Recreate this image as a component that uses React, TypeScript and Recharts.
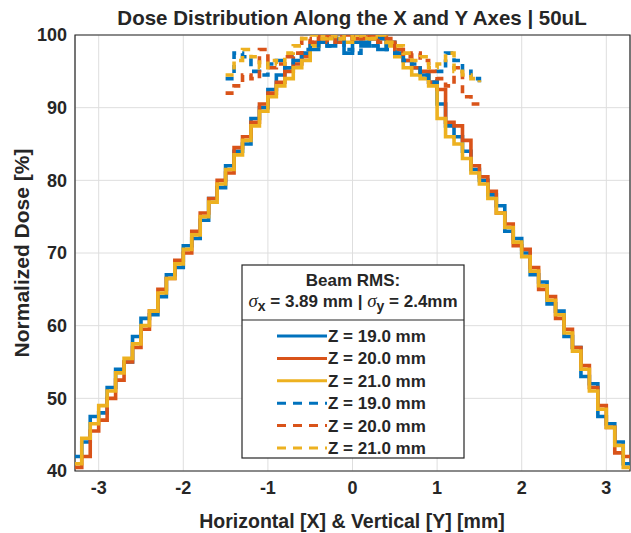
import { LineChart, Line, XAxis, YAxis, CartesianGrid, ReferenceArea } from 'recharts'

// positions along the axis [mm]
const xSolid = [
  -3.3, -3.2, -3.1, -3.0, -2.9, -2.8, -2.7, -2.6, -2.5, -2.4, -2.3, -2.2, -2.1, -2.0, -1.9, -1.8, -1.7,
  -1.6, -1.5, -1.4, -1.3, -1.2, -1.1, -1.0, -0.9, -0.8, -0.7, -0.6, -0.5, -0.4, -0.3, -0.2, -0.1, 0.0,
  0.1, 0.2, 0.3, 0.4, 0.5, 0.6, 0.7, 0.8, 0.9, 1.0, 1.1, 1.2, 1.3, 1.4, 1.5, 1.6, 1.7, 1.8, 1.9, 2.0,
  2.1, 2.2, 2.3, 2.4, 2.5, 2.6, 2.7, 2.8, 2.9, 3.0, 3.1, 3.2, 3.3
]
const xDashed = [
  -1.5, -1.4, -1.3, -1.2, -1.1, -1.0, -0.9, -0.8, -0.7, -0.6, -0.5, -0.4, -0.3, -0.2, -0.1, 0.0,
  0.1, 0.2, 0.3, 0.4, 0.5, 0.6, 0.7, 0.8, 0.9, 1.0, 1.1, 1.2, 1.3, 1.4, 1.5
]

// horizontal profiles (solid)
const z19X = [
  42.0, 44.0, 47.5, 48.0, 51.5, 54.0, 55.0, 58.5, 61.0, 61.5, 64.0, 67.0, 68.0, 71.0, 72.0, 74.5, 77.5,
  79.0, 82.0, 84.0, 85.0, 88.5, 90.0, 92.5, 94.5, 95.5, 96.5, 97.5, 98.0, 99.0, 98.5, 99.5, 97.5, 99.0,
  98.5, 99.5, 98.0, 99.0, 97.5, 96.5, 95.5, 94.5, 93.5, 90.5, 87.5, 86.0, 84.0, 81.5, 80.0, 78.0, 76.5,
  73.0, 72.0, 70.0, 67.0, 66.0, 63.0, 62.0, 58.5, 57.0, 53.0, 52.0, 47.5, 46.5, 44.0, 41.0, 40.5
]
const z20X = [
  40.5, 42.0, 45.5, 47.0, 50.0, 52.5, 55.0, 57.0, 59.5, 62.0, 65.0, 66.5, 69.0, 70.0, 73.0, 75.5, 77.5,
  80.0, 81.0, 84.5, 86.0, 88.0, 90.5, 92.0, 93.5, 95.0, 96.0, 97.0, 99.0, 99.5, 100, 99.0, 100, 99.5,
  100, 99.5, 100, 99.0, 98.0, 96.5, 95.5, 95.0, 93.5, 92.5, 88.0, 87.5, 85.5, 82.0, 80.5, 78.5, 75.5,
  74.0, 71.0, 70.5, 68.0, 65.0, 64.0, 61.0, 59.5, 57.0, 54.5, 51.5, 49.0, 46.0, 42.5, 42.0, 40.0
]
const z21X = [
  41.0, 44.5, 46.5, 49.0, 51.0, 53.5, 55.5, 57.5, 60.0, 62.0, 64.5, 66.5, 68.5, 70.5, 72.5, 75.0, 77.0,
  79.5, 81.5, 83.5, 85.5, 87.5, 89.5, 91.5, 93.0, 94.0, 95.5, 96.5, 98.5, 100, 99.5, 99.5, 99.0, 100,
  99.5, 100, 99.5, 98.5, 97.0, 95.5, 94.5, 94.0, 93.0, 88.5, 86.0, 85.0, 83.0, 81.0, 79.5, 77.5, 75.5,
  73.5, 71.5, 69.5, 67.5, 65.5, 63.5, 61.5, 59.0, 56.5, 54.0, 51.0, 48.5, 46.0, 43.5, 40.5, 40.0
]

// vertical profiles (dashed)
const z19Y = [
  94.0, 97.5, 97.0, 95.0, 94.5, 96.0, 96.5, 95.5, 97.0, 98.0, 98.5, 99.0, 98.5, 99.5, 98.0, 97.5,
  99.0, 98.5, 99.5, 98.0, 97.5, 96.5, 96.0, 94.5, 93.5, 95.0, 97.5, 96.5, 95.0, 94.0, 93.5
]
const z20Y = [
  92.0, 93.0, 94.5, 94.0, 98.0, 95.5, 96.0, 97.0, 97.5, 99.5, 99.0, 100, 99.0, 100, 99.5, 100,
  99.5, 100, 99.0, 99.5, 98.0, 97.0, 97.5, 96.5, 95.0, 94.0, 93.0, 95.5, 91.5, 90.5, 90.5
]
const z21Y = [
  94.5, 96.5, 98.0, 97.0, 95.5, 96.5, 96.0, 97.5, 98.5, 99.5, 100, 99.5, 100, 99.5, 100, 99.5,
  100, 99.5, 100, 99.0, 98.5, 97.5, 96.5, 97.0, 95.5, 96.0, 97.5, 95.0, 94.5, 94.0, 93.5
]

const xTicks = [-3, -2, -1, 0, 1, 2, 3]
const yTicks = [40, 50, 60, 70, 80, 90, 100]
const legendLabels = ['Z = 19.0 mm', 'Z = 20.0 mm', 'Z = 21.0 mm', 'Z = 19.0 mm', 'Z = 20.0 mm', 'Z = 21.0 mm']

const BLUE = '#0072BD'
const ORANGE = '#D95319'
const YELLOW = '#EDB120'
const TXT = '#262626'
const FONT = '"Liberation Sans", Arial, sans-serif'

const toRows = (xs: number[], ys: number[]) => xs.map((x, i) => ({ x, y: ys[i] }))

const series = [
  { name: 'z19x', data: toRows(xSolid, z19X), color: BLUE, dash: undefined },
  { name: 'z20x', data: toRows(xSolid, z20X), color: ORANGE, dash: undefined },
  { name: 'z21x', data: toRows(xSolid, z21X), color: YELLOW, dash: undefined },
  { name: 'z19y', data: toRows(xDashed, z19Y), color: BLUE, dash: '8 6' },
  { name: 'z20y', data: toRows(xDashed, z20Y), color: ORANGE, dash: '8 6' },
  { name: 'z21y', data: toRows(xDashed, z21Y), color: YELLOW, dash: '8 6' }
]

const tickStyle = { fill: TXT, fontSize: 18, fontWeight: 700, fontFamily: FONT }

export default function App() {
  return (
    <div style={{ position: 'absolute', left: 0, top: 0, width: 631, height: 533, background: '#fff' }}>
      <LineChart width={631} height={533} margin={{ top: 35, right: 1, left: 0, bottom: 0 }}>
        <CartesianGrid stroke="#dedede" strokeWidth={1} />
        <XAxis
          type="number"
          dataKey="x"
          domain={[-3.28, 3.28]}
          ticks={xTicks}
          allowDataOverflow
          height={62}
          tickLine={false}
          axisLine={false}
          tickSize={0}
          tickMargin={10}
          tick={tickStyle}
        />
        <YAxis
          type="number"
          dataKey="y"
          domain={[40, 100]}
          ticks={yTicks}
          allowDataOverflow
          width={75}
          tickLine={false}
          axisLine={false}
          tickSize={0}
          tickMargin={8}
          tick={tickStyle}
        />
        <ReferenceArea x1={-3.28} x2={3.28} y1={40} y2={100} fill="none" stroke={TXT} strokeWidth={1.2} />
        {series.map((s) => (
          <Line
            key={s.name}
            data={s.data}
            dataKey="y"
            type="stepAfter"
            stroke={s.color}
            strokeWidth={3.6}
            strokeDasharray={s.dash}
            dot={false}
            isAnimationActive={false}
          />
        ))}
      </LineChart>

      <svg width={631} height={533} style={{ position: 'absolute', left: 0, top: 0, pointerEvents: 'none' }}>
        <g fontFamily={FONT} fontWeight={700} fill={TXT}>
          <text x={352} y={25} textAnchor="middle" fontSize={20.5}>
            Dose Distribution Along the X and Y Axes | 50uL
          </text>
          <text x={352} y={528} textAnchor="middle" fontSize={19.5}>
            Horizontal [X] &amp; Vertical [Y] [mm]
          </text>
          <text transform="translate(29,253) rotate(-90)" textAnchor="middle" fontSize={21}>
            Normalized Dose [%]
          </text>
        </g>

        <rect x={242} y={265} width={222} height={193} fill="#fff" stroke={TXT} strokeWidth={1.2} />
        <line x1={242} x2={464} y1={320} y2={320} stroke={TXT} strokeWidth={1.2} />
        <g fontFamily={FONT} fill={TXT}>
          <text x={353} y={286} textAnchor="middle" fontWeight={700} fontSize={17}>Beam RMS:</text>
          <text x={353} y={307} textAnchor="middle" fontWeight={700} fontSize={17}>
            <tspan fontStyle="italic" fontWeight={400} fontFamily='"Liberation Serif", serif' fontSize={19}>σ</tspan>
            <tspan dy={4} fontSize={14}>x</tspan>
            <tspan dy={-4}> = 3.89 mm | </tspan>
            <tspan fontStyle="italic" fontWeight={400} fontFamily='"Liberation Serif", serif' fontSize={19}>σ</tspan>
            <tspan dy={4} fontSize={14}>y</tspan>
            <tspan dy={-4}> = 2.4mm</tspan>
          </text>
          {series.map((s, i) => {
            const y = 336 + i * 22.4
            return (
              <g key={s.name}>
                <line x1={277} x2={327} y1={y} y2={y} stroke={s.color} strokeWidth={3} strokeDasharray={s.dash ? '9 7' : undefined} />
                <text x={328} y={y + 6} fontWeight={700} fontSize={17}>{legendLabels[i]}</text>
              </g>
            )
          })}
        </g>
      </svg>
    </div>
  )
}
